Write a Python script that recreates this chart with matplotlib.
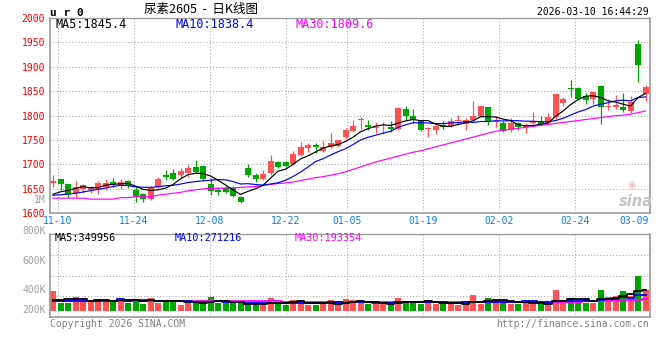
import numpy as np
import matplotlib
matplotlib.use('Agg')
import matplotlib.pyplot as plt
from matplotlib.transforms import blended_transform_factory

# ---- data (80 sessions, 11-07 .. 03-10) ----
opens = [1663, 1670, 1659, 1642, 1650, 1648, 1649, 1654, 1665, 1656,
         1667, 1648, 1640, 1629, 1653, 1678, 1683, 1678, 1682, 1695,
         1697, 1660, 1648, 1651, 1651, 1633, 1692, 1678, 1670, 1683,
         1705, 1705, 1701, 1719, 1734, 1739, 1728, 1736, 1738, 1757,
         1769, 1791, 1780.5, 1775, 1782, 1777, 1772, 1813, 1799, 1789.5,
         1772, 1770.5, 1780.5, 1778.5, 1790, 1783, 1792, 1799, 1817, 1787,
         1785, 1770.5, 1784, 1776, 1784, 1789.5, 1785, 1796.5, 1826, 1856,
         1856, 1840, 1834.5, 1860, 1817, 1818, 1818, 1810, 1946.6, 1844]
highs = [1678, 1671, 1661, 1667, 1660, 1656, 1667, 1671, 1673, 1670,
         1669, 1653, 1641, 1656, 1674, 1689, 1690, 1692, 1699, 1709,
         1699, 1672, 1653, 1656, 1656, 1636, 1701, 1682, 1689, 1719,
         1708, 1708, 1728, 1747, 1743, 1743, 1749, 1765, 1751, 1774,
         1791, 1796.5, 1791, 1787.5, 1786, 1790, 1817, 1820, 1813, 1792,
         1776, 1781, 1789.6, 1796, 1801, 1796, 1830, 1822, 1818, 1798,
         1789.6, 1796, 1788, 1784, 1808, 1799, 1805, 1846, 1839, 1873,
         1858, 1847, 1851, 1862.6, 1835, 1842, 1847, 1840, 1954.7, 1862.6]
lows = [1654, 1648, 1634, 1633, 1641, 1642, 1640, 1648, 1654, 1649,
        1652, 1624, 1624, 1627, 1651, 1668, 1668, 1672, 1675, 1683,
        1668, 1637, 1638, 1642, 1634, 1621, 1675, 1665, 1668, 1678,
        1692, 1694, 1699, 1717, 1726, 1724, 1726, 1733, 1736, 1753,
        1767, 1772, 1771, 1764, 1762, 1767, 1770, 1792, 1784, 1769,
        1755.5, 1762, 1772, 1777, 1781, 1770.5, 1789.5, 1796.5, 1781, 1777,
        1767, 1767, 1771, 1765, 1783, 1781, 1784, 1794, 1820, 1839,
        1833, 1824, 1824, 1783, 1811, 1813, 1808, 1806, 1869.4, 1830.5]
closes = [1666, 1659, 1638, 1653, 1658, 1653, 1662, 1662, 1661, 1665,
          1656, 1634, 1629, 1651, 1670, 1674, 1671, 1687, 1693, 1685,
          1671, 1646, 1644, 1644, 1635, 1624, 1678, 1670, 1680, 1708,
          1695.5, 1697, 1721, 1735, 1740, 1735, 1736, 1744, 1750, 1770,
          1778.5, 1792, 1776, 1776, 1783, 1773, 1815, 1799, 1791, 1770.5,
          1774, 1779, 1776, 1789.5, 1791, 1791, 1799, 1819, 1789.5, 1788,
          1769, 1785, 1776, 1778.5, 1789.5, 1783, 1796.5, 1844, 1834.5, 1854,
          1835, 1832, 1848, 1818, 1819.5, 1821.7, 1811, 1828.5, 1903.6, 1858]

ma5 = [1639, 1644, 1647, 1651, 1654.8, 1652.2, 1652.8, 1657.6, 1659.2, 1660.6,
       1661.2, 1655.6, 1649, 1647, 1648, 1651.6, 1659, 1670.6, 1679, 1682,
       1681.4, 1676.4, 1667.8, 1658, 1648, 1638.6, 1645, 1650.2, 1657.4, 1672,
       1686.3, 1690.1, 1700.3, 1711.3, 1717.7, 1725.6, 1733.4, 1738, 1741, 1747,
       1755.7, 1766.9, 1773.3, 1778.5, 1781.1, 1780, 1784.6, 1789.2, 1792.2, 1789.7,
       1789.9, 1782.7, 1778.1, 1777.8, 1781.9, 1785.3, 1789.3, 1797.9, 1797.9, 1797.3,
       1792.9, 1790.1, 1781.5, 1779.3, 1779.6, 1782.4, 1784.7, 1798.3, 1809.5, 1822.4,
       1832.8, 1839.9, 1840.7, 1837.4, 1830.5, 1827.8, 1823.6, 1819.7, 1836.9, 1845.4]
ma10 = [1636.8, 1638, 1639.5, 1641, 1643.6, 1646.4, 1649, 1651.8, 1654.6, 1657.7,
        1656.7, 1654.2, 1653.3, 1653.1, 1654.3, 1656.4, 1657.3, 1659.8, 1663, 1665,
        1666.5, 1667.7, 1669.2, 1668.5, 1665, 1660, 1660.7, 1659, 1657.7, 1660,
        1662.5, 1667.6, 1675.3, 1684.4, 1694.9, 1706, 1711.8, 1719.2, 1726.2, 1732.4,
        1740.7, 1750.2, 1755.7, 1759.8, 1764.1, 1767.9, 1775.8, 1781.3, 1785.4, 1785.4,
        1785, 1783.7, 1783.7, 1785, 1785.8, 1787.6, 1786, 1788, 1787.9, 1789.6,
        1789.1, 1789.7, 1789.7, 1788.6, 1788.5, 1787.7, 1787.4, 1789.9, 1794.4, 1801,
        1807.6, 1812.3, 1819.5, 1823.5, 1826.5, 1830.3, 1831.8, 1830.2, 1837.1, 1838.4]
ma30 = [1631, 1631, 1631, 1631, 1631, 1629, 1629, 1629, 1629, 1632,
        1632, 1634, 1634, 1634, 1637, 1639, 1641, 1643, 1646, 1648,
        1650, 1651, 1651, 1652, 1652, 1653, 1654, 1655, 1657, 1659,
        1661, 1662, 1664, 1667, 1670, 1673, 1675, 1678, 1681, 1685,
        1690, 1695, 1700, 1705, 1709, 1713, 1717, 1721, 1725, 1728,
        1732, 1736, 1740, 1744, 1748, 1752, 1756, 1760, 1764, 1768,
        1770, 1772, 1774, 1776, 1778, 1780, 1782, 1784, 1786, 1788,
        1790, 1792, 1794, 1796, 1798, 1800, 1801, 1803, 1806, 1809.6]

# volume in thousands of lots
volume = [337, 138, 138, 232, 183, 154, 199, 154, 166, 216,
          138, 199, 116, 216, 138, 183, 154, 100, 128, 166,
          128, 232, 138, 128, 128, 128, 100, 100, 100, 216,
          128, 100, 183, 183, 100, 100, 128, 178, 95, 194,
          178, 161, 121, 121, 121, 95, 211, 161, 161, 121,
          178, 121, 121, 111, 95, 161, 261, 121, 211, 178,
          161, 121, 111, 161, 121, 111, 111, 344, 178, 211,
          133, 133, 133, 344, 227, 244, 327, 244, 576, 344]
vol_ma5 = [185, 185, 195, 200, 206, 169, 181, 184, 171, 178,
           175, 175, 167, 177, 161, 170, 161, 158, 141, 146,
           135, 151, 158, 158, 151, 151, 124, 117, 111, 129,
           129, 129, 145, 162, 139, 133, 139, 138, 120, 139,
           155, 161, 150, 155, 140, 124, 134, 142, 150, 150,
           166, 148, 140, 130, 125, 122, 150, 150, 170, 186,
           186, 158, 156, 146, 135, 125, 123, 170, 173, 191,
           195, 200, 158, 191, 194, 216, 255, 277, 324, 350]
vol_ma10 = [170, 170, 170, 170, 170, 170, 170, 170, 170, 192,
            172, 178, 176, 174, 170, 173, 168, 163, 159, 154,
            153, 156, 158, 150, 149, 143, 138, 138, 135, 140,
            140, 127, 131, 137, 134, 131, 134, 142, 141, 139,
            144, 150, 144, 138, 140, 139, 148, 146, 152, 145,
            145, 141, 141, 140, 138, 144, 149, 145, 150, 156,
            154, 154, 153, 158, 161, 156, 141, 163, 160, 163,
            160, 161, 164, 182, 193, 206, 227, 217, 257, 271.2]
vol_ma30 = [160, 160, 160, 160, 160, 160, 160, 160, 160, 160,
            161, 161, 161, 161, 161, 161, 161, 161, 161, 161,
            162, 162, 162, 162, 162, 162, 162, 162, 162, 162,
            158, 156, 154, 153, 152, 150, 149, 147, 146, 144,
            144, 144, 143, 143, 142, 142, 142, 141, 141, 141,
            141, 142, 142, 143, 143, 144, 145, 145, 146, 147,
            147, 148, 149, 150, 150, 151, 152, 153, 154, 155,
            157, 160, 163, 167, 171, 175, 180, 185, 190, 193.4]

date_labels = ['11-10', '11-24', '12-08', '12-22', '01-05', '01-19', '02-02', '02-24', '03-09']
date_idx = [1, 11, 21, 31, 39, 49, 59, 69, 78]
price_ticks = [1600, 1650, 1700, 1750, 1800, 1850, 1900, 1950, 2000]
vol_labels = ['1M', '800K', '600K', '400K', '200K']

# ---- style ----
RED = '#ff5252'
GREEN = '#00a600'
GRID = '#aaaaaa'
FRAME = '#9a9a9a'
DATE_BLUE = '#0a80e0'
MONO = 'DejaVu Sans Mono'
CJK = ['Noto Sans CJK SC', 'DejaVu Sans']
GRID_STEP = 69 / 68   # sina's date grid drifts a bit wider than the candle slots
dotted = (0, (1, 2))

W, H = 660, 360
fig = plt.figure(figsize=(W / 100, H / 100), dpi=100)
fig.patch.set_facecolor('white')


def box(x0, y0, x1, y1):
    # pixel box (top-left origin) -> figure fraction rect
    return [x0 / W, 1 - y1 / H, (x1 - x0) / W, (y1 - y0) / H]


ax_p = fig.add_axes(box(50, 18, 650, 213.3))
ax_v = fig.add_axes(box(50, 234, 650, 317))

n = len(closes)
x = np.arange(n) + 0.4
o = np.array(opens); c = np.array(closes)
hi = np.array(highs); lo = np.array(lows)
up = c >= o
cols = np.where(up, RED, GREEN)

for ax in (ax_p, ax_v):
    ax.set_xlim(0, n)
    for s in ax.spines.values():
        s.set_color(FRAME)
        s.set_linewidth(1.2)
    ax.spines['top'].set_linewidth(0.9)
    ax.tick_params(length=0)
    ax.set_xticks([])
    for k in date_idx[:-1]:
        ax.axvline(1 + (k - 1) * GRID_STEP, color=GRID, lw=0.75, ls=dotted, zorder=0)

# ---- price panel ----
ax_p.set_ylim(1600, 2000)
ax_p.set_yticks(price_ticks)
ax_p.set_yticklabels([str(t) for t in price_ticks], color='red', family=MONO, fontsize=7)
ax_p.tick_params(axis='y', pad=3.5)
for t in price_ticks[1:-1]:
    ax_p.axhline(t, color=GRID, lw=0.75, ls=dotted, zorder=0)

ax_p.vlines(x, lo, hi, colors=cols, lw=0.9, zorder=2)
body_h = np.maximum(np.abs(c - o), 1.6)
ax_p.bar(x, body_h, bottom=np.minimum(o, c), width=0.8, color=cols, linewidth=0, zorder=3)
ax_p.plot(x, ma30, color='#ff00ff', lw=0.85, zorder=4)
ax_p.plot(x, ma10, color='#0000ff', lw=0.85, zorder=4)
ax_p.plot(x, ma5, color='black', lw=0.85, zorder=5)

tr = blended_transform_factory(ax_p.transData, ax_p.transAxes)
for lab, k in zip(date_labels[:-1], date_idx[:-1]):
    ax_p.text(1 + (k - 1) * GRID_STEP, -0.04, lab, transform=tr, ha='center', va='center',
              color=DATE_BLUE, family=MONO, fontsize=7)
ax_p.text(n - 0.2, -0.04, date_labels[-1], transform=tr, ha='right', va='center',
          color=DATE_BLUE, family=MONO, fontsize=7)

ax_p.text(5 / 600, 0.968, 'MA5:%.1f' % ma5[-1], transform=ax_p.transAxes, ha='left', va='center',
          color='black', family=MONO, fontsize=8.5)
ax_p.text(125 / 600, 0.968, 'MA10:%.1f' % ma10[-1], transform=ax_p.transAxes, ha='left', va='center',
          color='#0000ff', family=MONO, fontsize=8.5)
ax_p.text(245 / 600, 0.968, 'MA30:%.1f' % ma30[-1], transform=ax_p.transAxes, ha='left', va='center',
          color='#ff00ff', family=MONO, fontsize=8.5)

# sina watermark
fig.text(632 / W, 1 - 185 / H, '\u25c9', ha='center', va='center', color='#f0c4c4', fontsize=7)
fig.text(636 / W, 1 - 201 / H, 'sina', ha='center', va='center', color='#c4c4c4',
         fontsize=10.5, style='italic', weight='bold')

# ---- volume panel ----
vmin, vmax = -100, 1278
ax_v.set_ylim(vmin, vmax)
ax_v.set_yticks([])
for f in (0.25, 0.5, 0.75):
    ax_v.axhline(vmin + (vmax - vmin) * f, color=GRID, lw=0.75, ls=dotted, zorder=0)
ax_v.bar(x, volume, width=0.8, color=cols, linewidth=0, zorder=2)
ax_v.plot(x, vol_ma30, color='#ff00ff', lw=1.3, drawstyle='steps-mid', zorder=3)
ax_v.plot(x, vol_ma10, color='#0000ff', lw=1.3, drawstyle='steps-mid', zorder=3)
ax_v.plot(x, vol_ma5, color='black', lw=1.3, drawstyle='steps-mid', zorder=4)

ax_v.text(5 / 600, 0.95, 'MA5:%d' % round(vol_ma5[-1] * 1000 - 44), transform=ax_v.transAxes,
          ha='left', va='center', color='black', family=MONO, fontsize=7.3)
ax_v.text(125 / 600, 0.95, 'MA10:%d' % round(vol_ma10[-1] * 1000 + 16), transform=ax_v.transAxes,
          ha='left', va='center', color='#0000ff', family=MONO, fontsize=7.3)
ax_v.text(245 / 600, 0.95, 'MA30:%d' % round(vol_ma30[-1] * 1000 - 46), transform=ax_v.transAxes,
          ha='left', va='center', color='#ff00ff', family=MONO, fontsize=7.3)

# sina places its volume scale labels at fixed rows, not on the grid
for lab, ypx in zip(vol_labels, [200, 231, 261, 290, 310]):
    fig.text(46 / W, 1 - ypx / H, lab, ha='right', va='center', color='#a0a0a0',
             family=MONO, fontsize=7)

# ---- header / footer ----
fig.text(50 / W, 1 - 12.5 / H, 'u r 0', ha='left', va='center', color='black',
         family=MONO, weight='bold', fontsize=8)
fig.text(201 / W, 1 - 9.5 / H, '尿素2605  -  日K线图', ha='center', va='center',
         color='black', family=CJK, fontsize=9)
fig.text(649 / W, 1 - 12 / H, '2026-03-10 16:44:29', ha='right', va='center',
         color='black', family=MONO, fontsize=7)
fig.text(50 / W, 1 - 324 / H, 'Copyright 2026 SINA.COM', ha='left', va='center',
         color='#808080', family=MONO, fontsize=7)
fig.text(649 / W, 1 - 324 / H, 'http://finance.sina.com.cn', ha='right', va='center',
         color='#808080', family=MONO, fontsize=7)

fig.savefig('out.png', dpi=100, facecolor='white')
